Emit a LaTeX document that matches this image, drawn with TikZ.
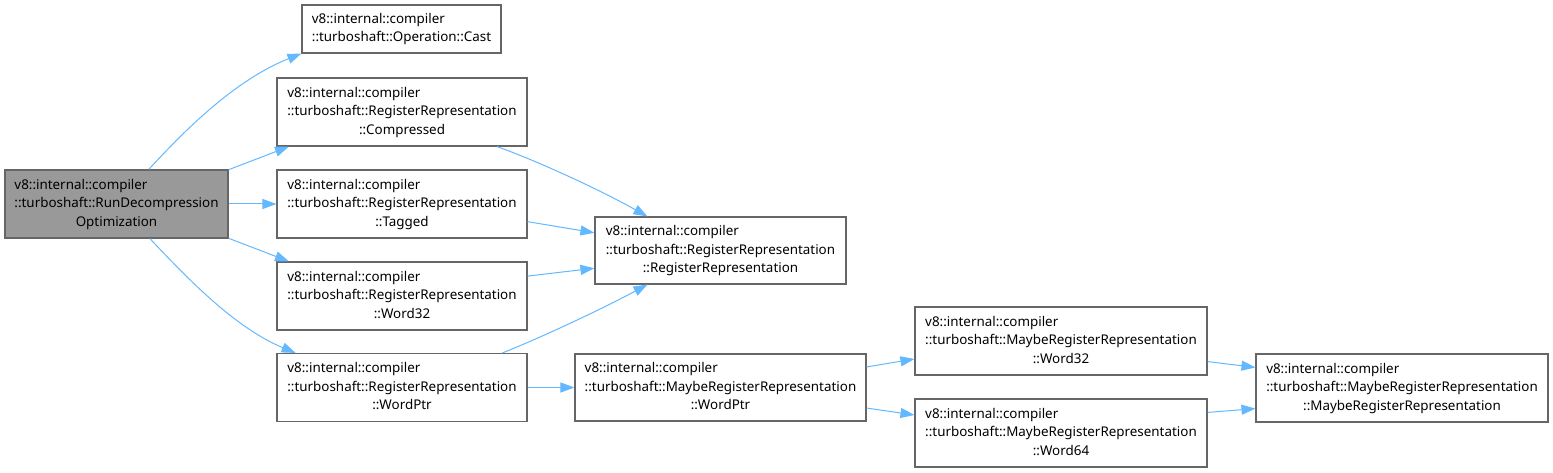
\documentclass[tikz,border=0pt]{standalone}
\usepackage{fontspec}
\setmainfont{Noto Sans}
\usepackage{tikz}
\usetikzlibrary{arrows.meta, calc}
\usepackage{xcolor}
\definecolor{boxline}{HTML}{666666}
\definecolor{boxfill}{HTML}{999999}
\definecolor{edgeblue}{HTML}{63B8FF}
\newcommand{\twolines}[2]{\begin{tabular}{@{}l@{}}#1\\#2\end{tabular}}
\newcommand{\threelines}[3]{\begin{tabular}{@{}l@{}}#1\\#2\\\multicolumn{1}{@{}c@{}}{#3}\end{tabular}}
\tikzset{
    classbox/.style = {rectangle, draw=boxline, line width=1.1pt, fill=white, inner sep=0pt, font=\fontsize{13.4}{18.5}\selectfont},
    mainbox/.style = {classbox, fill=boxfill},
    arrow/.style = {draw=edgeblue, line width=1pt, -{Triangle[length=14pt, width=10pt]}, edgeblue}
}

\begin{document}
\begin{tikzpicture}[x=1pt, y=-1pt]
\useasboundingbox (0,0) rectangle (1553,473);

\node[mainbox, minimum width=223pt, minimum height=68pt] (rundecomp) at (116.5,204) {\threelines{v8::internal::compiler}{::turboshaft::RunDecompression}{Optimization}};

\node[classbox, minimum width=199pt, minimum height=48pt] (cast) at (401.5,29) {\twolines{v8::internal::compiler}{::turboshaft::Operation::Cast}};
\node[classbox, minimum width=250pt, minimum height=68pt] (compressed) at (402,112) {\threelines{v8::internal::compiler}{::turboshaft::RegisterRepresentation}{::Compressed}};
\node[classbox, minimum width=250pt, minimum height=68pt] (tagged) at (402,204) {\threelines{v8::internal::compiler}{::turboshaft::RegisterRepresentation}{::Tagged}};
\node[classbox, minimum width=250pt, minimum height=68pt] (word32) at (402,296) {\threelines{v8::internal::compiler}{::turboshaft::RegisterRepresentation}{::Word32}};
\node[classbox, minimum width=250pt, minimum height=68pt] (wordptr) at (402,387.5) {\threelines{v8::internal::compiler}{::turboshaft::RegisterRepresentation}{::WordPtr}};

\node[classbox, minimum width=251pt, minimum height=67pt] (regrep) at (720.5,250.5) {\threelines{v8::internal::compiler}{::turboshaft::RegisterRepresentation}{::RegisterRepresentation}};
\node[classbox, minimum width=291pt, minimum height=67pt] (mwordptr) at (720.5,387.5) {\threelines{v8::internal::compiler}{::turboshaft::MaybeRegisterRepresentation}{::WordPtr}};

\node[classbox, minimum width=292pt, minimum height=68pt] (mword32) at (1061,341) {\threelines{v8::internal::compiler}{::turboshaft::MaybeRegisterRepresentation}{::Word32}};
\node[classbox, minimum width=292pt, minimum height=68pt] (mword64) at (1061,433) {\threelines{v8::internal::compiler}{::turboshaft::MaybeRegisterRepresentation}{::Word64}};
\node[classbox, minimum width=292pt, minimum height=68pt] (mregrep) at (1402,388) {\threelines{v8::internal::compiler}{::turboshaft::MaybeRegisterRepresentation}{::MaybeRegisterRepresentation}};

% calls out of RunDecompressionOptimization
\draw[arrow] (rundecomp.47) .. controls (185,130) and (235,80) .. (cast.south west);
\draw[arrow] (rundecomp.17) -- (compressed.197);
\draw[arrow] (rundecomp.east) -- (tagged.west);
\draw[arrow] (rundecomp.-17) -- (word32.163);
\draw[arrow] (rundecomp.-46) .. controls (187,278) and (235,328) .. (wordptr.162);

% register representation
\draw[arrow] (compressed.-20) .. controls (540,162) and (600,190) .. (regrep.155);
\draw[arrow] (tagged.-8) -- (regrep.172);
\draw[arrow] (word32.9) -- (regrep.188);
\draw[arrow] (wordptr.19) .. controls (540,338) and (600,310) .. (regrep.205);

% maybe register representation
\draw[arrow] (wordptr.east) -- (mwordptr.west);
\draw[arrow] (mwordptr.8) -- (mword32.187);
\draw[arrow] (mwordptr.-8) -- (mword64.173);
\draw[arrow] (mword32.-8) -- (mregrep.172);
\draw[arrow] (mword64.8) -- (mregrep.188);

\end{tikzpicture}
\end{document}
